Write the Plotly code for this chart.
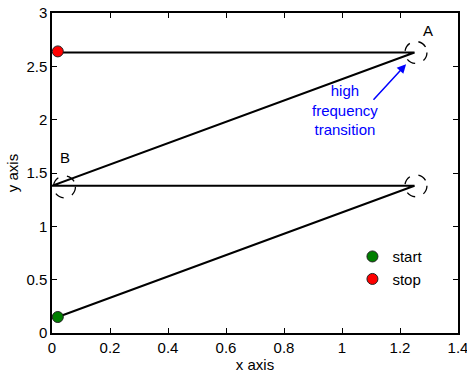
import plotly.graph_objects as go

# path data
path_x = [0.02, 1.25, 0.0, 1.25, 0.02]
path_y = [0.15, 1.38, 1.38, 2.63, 2.63]
start_pt = (0.02, 0.15)
stop_pt = (0.02, 2.64)
circle_x = [1.255, 1.255, 0.043]
circle_y = [2.63, 1.38, 1.37]
label_names = ["A", "B"]
label_x = [1.295, 0.045]
label_y = [2.84, 1.65]
x_ticks = [0, 0.2, 0.4, 0.6, 0.8, 1.0, 1.2, 1.4]
x_tick_labels = ["0", "0.2", "0.4", "0.6", "0.8", "1", "1.2", "1.4"]
y_ticks = [0, 0.5, 1.0, 1.5, 2.0, 2.5, 3.0]
y_tick_labels = ["0", "0.5", "1", "1.5", "2", "2.5", "3"]

font = "Liberation Sans, Arial, sans-serif"
fs = 15

fig = go.Figure()
fig.add_trace(go.Scatter(x=path_x, y=path_y, mode="lines",
                         line=dict(color="black", width=2), showlegend=False))
fig.add_trace(go.Scatter(x=[start_pt[0]], y=[start_pt[1]], mode="markers", name="start",
                         marker=dict(color="#007f00", size=11, line=dict(color="#222", width=1))))
fig.add_trace(go.Scatter(x=[stop_pt[0]], y=[stop_pt[1]], mode="markers", name="stop",
                         marker=dict(color="#ff0000", size=11, line=dict(color="#222", width=1))))

for cx, cy in zip(circle_x, circle_y):
    fig.add_shape(type="circle", xref="x", yref="y", xsizemode="pixel", ysizemode="pixel",
                  xanchor=cx, yanchor=cy, x0=-11, x1=11, y0=-11, y1=11,
                  line=dict(color="black", width=1.3, dash="dash"))

for name, lx, ly in zip(label_names, label_x, label_y):
    fig.add_annotation(x=lx, y=ly, text=name, showarrow=False,
                       font=dict(size=fs, color="black", family=font))

fig.add_annotation(x=1.221, y=2.52, text="", showarrow=True, ax=-34, ay=37,
                   arrowhead=2, arrowsize=1.2, arrowwidth=1.5, arrowcolor="#0000ff")
fig.add_annotation(x=1.010, y=2.09, text="high<br>frequency<br>transition", showarrow=False,
                   font=dict(size=fs, color="#0000ff", family=font))

axis_common = dict(showline=True, linecolor="black", linewidth=1.5, mirror="ticks",
                   ticks="inside", ticklen=5, tickcolor="black", showgrid=False, zeroline=False,
                   automargin=False, ticklabeloverflow="allow",
                   tickfont=dict(size=fs, color="black", family=font))
fig.update_xaxes(range=[0, 1.4], tickvals=x_ticks, ticktext=x_tick_labels,
                 title=dict(text="x axis", font=dict(size=fs, color="black", family=font), standoff=2),
                 **axis_common)
fig.update_yaxes(range=[0, 3], tickvals=y_ticks, ticktext=y_tick_labels,
                 title=dict(text="y axis", font=dict(size=fs, color="black", family=font), standoff=4),
                 **axis_common)

fig.update_layout(width=467, height=374, margin=dict(l=52, r=9, t=13, b=41),
                  plot_bgcolor="white", paper_bgcolor="white",
                  legend=dict(x=0.74, y=0.29, xanchor="left", yanchor="top",
                              bgcolor="rgba(0,0,0,0)", font=dict(size=fs, color="black", family=font),
                              tracegroupgap=0, itemwidth=30))

fig.write_html("out.html", config={"displayModeBar": False},
               post_script="document.body.style.margin='0';document.body.style.overflow='hidden';")
